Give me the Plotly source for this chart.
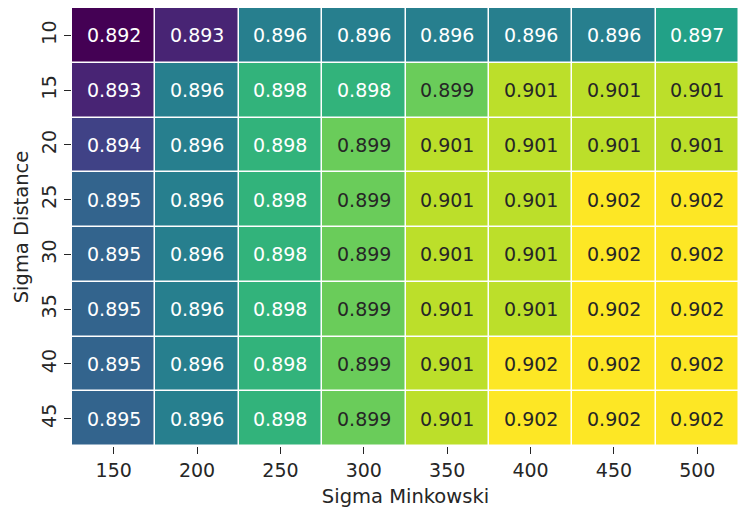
import plotly.graph_objects as go
from plotly.colors import sample_colorscale

# Grid-search accuracy over the two kernel bandwidths
sigma_minkowski = [150, 200, 250, 300, 350, 400, 450, 500]
sigma_distance = [10, 15, 20, 25, 30, 35, 40, 45]
accuracy = [
    [0.892, 0.893, 0.896, 0.896, 0.896, 0.896, 0.896, 0.897],
    [0.893, 0.896, 0.898, 0.898, 0.899, 0.901, 0.901, 0.901],
    [0.894, 0.896, 0.898, 0.899, 0.901, 0.901, 0.901, 0.901],
    [0.895, 0.896, 0.898, 0.899, 0.901, 0.901, 0.902, 0.902],
    [0.895, 0.896, 0.898, 0.899, 0.901, 0.901, 0.902, 0.902],
    [0.895, 0.896, 0.898, 0.899, 0.901, 0.901, 0.902, 0.902],
    [0.895, 0.896, 0.898, 0.899, 0.901, 0.902, 0.902, 0.902],
    [0.895, 0.896, 0.898, 0.899, 0.901, 0.902, 0.902, 0.902],
]

# Viridis positions used for each accuracy level
level_values = [0.892, 0.893, 0.894, 0.895, 0.896, 0.897, 0.898, 0.899, 0.901, 0.902]
level_viridis = [0.0, 0.1, 0.2, 0.32, 0.43, 0.57, 0.65, 0.77, 0.9, 1.0]

zmin, zmax = level_values[0], level_values[-1]
level_colors = sample_colorscale("Viridis", level_viridis)
colorscale = [[(v - zmin) / (zmax - zmin), c]
              for v, c in zip(level_values, level_colors)]
colorscale[-1][0] = 1.0

xi = list(range(len(sigma_minkowski)))
yi = list(range(len(sigma_distance)))

fig = go.Figure(go.Heatmap(
    z=accuracy, x=xi, y=yi,
    colorscale=colorscale, zmin=zmin, zmax=zmax,
    showscale=False, xgap=1.5, ygap=1.5,
    hovertemplate="%{z:.3f}<extra></extra>",
))

# Cell annotations: dark text on bright cells, white on dark ones
for i, row in enumerate(accuracy):
    for j, v in enumerate(row):
        color = "#262626" if v >= 0.899 else "white"
        fig.add_annotation(
            x=j, y=i, text=f"{v:.3f}",
            showarrow=False, font=dict(size=19, color=color,
                                       family="DejaVu Sans"),
        )

fig.update_layout(
    width=739, height=508,
    margin=dict(l=72, r=0, t=8, b=62),
    paper_bgcolor="white", plot_bgcolor="white",
    font=dict(family="DejaVu Sans", size=19, color="#262626"),
)
fig.update_xaxes(
    range=[-0.5, len(xi) - 0.5],
    tickmode="array", tickvals=xi, ticktext=[str(v) for v in sigma_minkowski],
    title=dict(text="Sigma Minkowski", standoff=9, font=dict(size=19.5)),
    ticks="outside", ticklen=7, tickwidth=1.2, tickcolor="#262626",
    showgrid=False, zeroline=False,
)
fig.update_yaxes(
    range=[len(yi) - 0.5, -0.5],
    tickmode="array", tickvals=yi, ticktext=[str(v) for v in sigma_distance],
    title=dict(text="Sigma Distance", standoff=4, font=dict(size=19.5)),
    ticks="outside", ticklen=7, tickwidth=1.2, tickcolor="#262626",
    tickangle=-90, showgrid=False, zeroline=False,
)

fig.write_html("out.html")
